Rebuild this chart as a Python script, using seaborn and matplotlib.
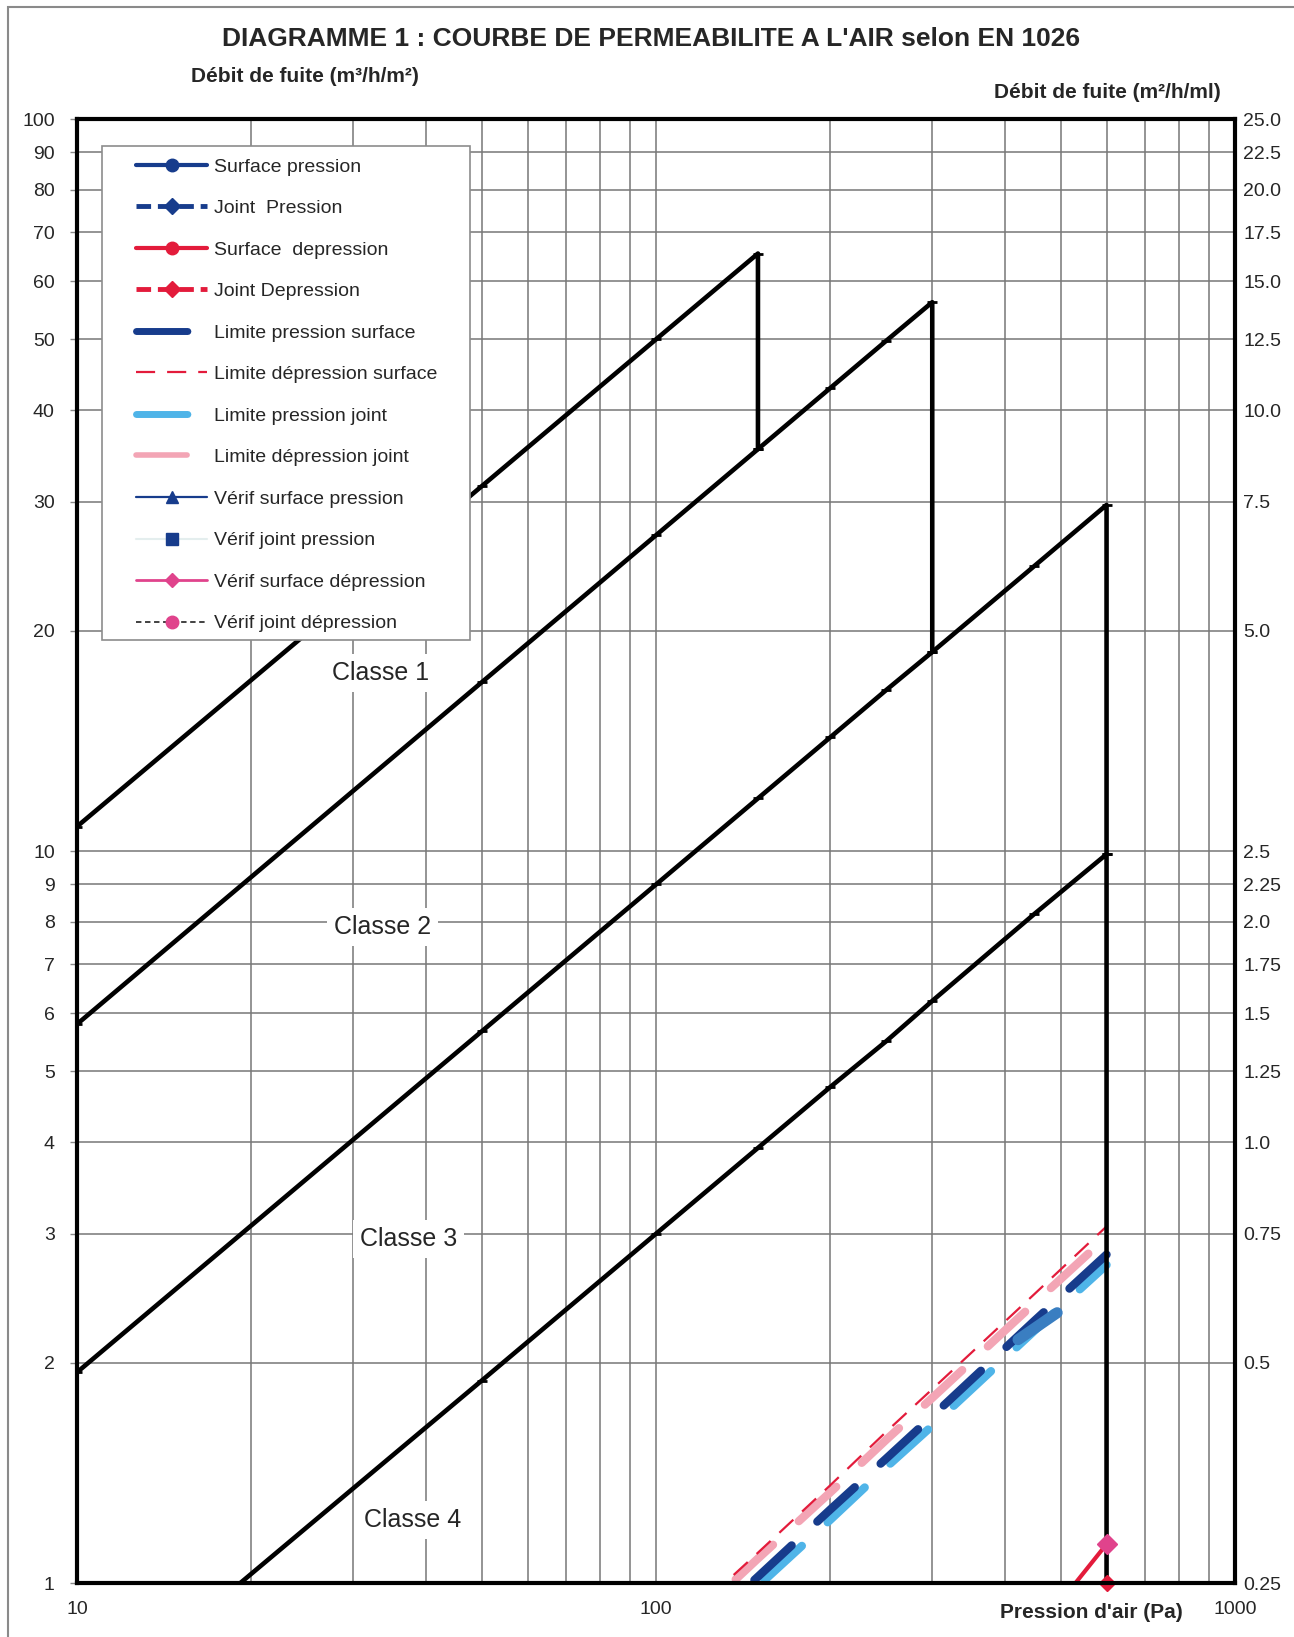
import seaborn as sns
import matplotlib.pyplot as plt
from matplotlib.lines import Line2D
from matplotlib.patches import Rectangle
from matplotlib.ticker import FixedLocator, FixedFormatter, NullLocator

# classes EN 12207 : pression (Pa) / débit de fuite (m3/h/m2)
classe1_p = [10, 50, 100, 150, 150]
classe1_q = [10.8, 31.5, 50.0, 65.5, 35.4]
classe2_p = [10, 50, 100, 150, 200, 250, 300, 300]
classe2_q = [5.8, 17.0, 27.0, 35.4, 42.9, 49.8, 56.2, 18.7]
classe3_p = [10, 50, 100, 150, 200, 250, 300, 450, 600, 600]
classe3_q = [1.94, 5.67, 9.0, 11.8, 14.3, 16.6, 18.7, 24.5, 29.7, 9.9]
classe4_p = [10, 50, 100, 150, 200, 250, 300, 450, 600, 600]
classe4_q = [0.65, 1.89, 3.0, 3.93, 4.76, 5.5, 6.24, 8.2, 9.9, 1.0]

# limites de l'essai
limite_p = [100, 150, 200, 250, 300, 450, 600]
lim_dep_surf = [0.82, 1.10, 1.36, 1.61, 1.84, 2.48, 3.07]
lim_dep_joint = [0.80, 1.08, 1.33, 1.57, 1.79, 2.41, 2.97]
lim_pres_surf = [0.76, 1.02, 1.26, 1.48, 1.69, 2.28, 2.81]
lim_pres_joint = [0.74, 0.99, 1.22, 1.44, 1.64, 2.21, 2.72]

# mesures
verif_joint_p = [422, 493]
verif_joint_q = [2.15, 2.34]
surf_dep_p = [450, 600]
surf_dep_q = [0.85, 1.13]
verif_surf_dep_p = [600]
verif_surf_dep_q = [1.13]
joint_dep_p = [600]
joint_dep_q = [1.0]

# axes
grid_x = [10, 20, 30, 40, 50, 60, 70, 80, 90, 100,
          200, 300, 400, 500, 600, 700, 800, 900, 1000]
grid_y = [1, 2, 3, 4, 5, 6, 7, 8, 9, 10,
          20, 30, 40, 50, 60, 70, 80, 90, 100]
left_labels = ["1", "2", "3", "4", "5", "6", "7", "8", "9", "10",
               "20", "30", "40", "50", "60", "70", "80", "90", "100"]
right_labels = ["0.25", "0.5", "0.75", "1.0", "1.25", "1.5", "1.75", "2.0", "2.25", "2.5",
                "5.0", "7.5", "10.0", "12.5", "15.0", "17.5", "20.0", "22.5", "25.0"]
bottom_labels = {10: "10", 100: "100", 1000: "1000"}

classes = ["Classe 1", "Classe 2", "Classe 3", "Classe 4"]
classes_x = [33.5, 33.7, 37.4, 38.0]
classes_y = [17.5, 7.87, 2.95, 1.22]

legend_labels = ["Surface pression", "Joint  Pression", "Surface  depression",
                 "Joint Depression", "Limite pression surface",
                 "Limite dépression surface", "Limite pression joint",
                 "Limite dépression joint", "Vérif surface pression",
                 "Vérif joint pression", "Vérif surface dépression",
                 "Vérif joint dépression"]

NAVY = "#173c8c"
RED = "#e31b3b"
LBLUE = "#4fb4e8"
PINK = "#f3a5b5"
MAGENTA = "#e0438c"
LONG_DASH = (0, (6.1, 4.2))

sns.set_style("white")
plt.rcParams['font.family'] = ['Liberation Sans', 'DejaVu Sans']

W, H = 1294, 1637
fig = plt.figure(figsize=(W / 100, H / 100), dpi=100)
ax = fig.add_axes([77 / W, 1 - 1583 / H, (1235 - 77) / W, (1583 - 119) / H])
ax.set_xscale('log')
ax.set_yscale('log')
ax.set_xlim(10, 1000)
ax.set_ylim(1, 100)

# black class curves
for px, qy in [(classe1_p, classe1_q), (classe2_p, classe2_q),
               (classe3_p, classe3_q), (classe4_p, classe4_q)]:
    sns.lineplot(x=px, y=qy, ax=ax, color="black", lw=3.3, sort=False,
                 estimator=None, marker="_", ms=7, mew=2, mec="black", zorder=3)

# limits
thick = dict(lw=6, sort=False, estimator=None, linestyle=LONG_DASH,
             dash_capstyle="round", solid_capstyle="round")
sns.lineplot(x=limite_p, y=lim_dep_joint, ax=ax, color=PINK, **thick)
sns.lineplot(x=limite_p, y=lim_pres_joint, ax=ax, color=LBLUE, **thick)
sns.lineplot(x=limite_p, y=lim_pres_surf, ax=ax, color=NAVY, **thick)
sns.lineplot(x=limite_p, y=lim_dep_surf, ax=ax, color=RED, lw=1.6, sort=False,
             estimator=None, linestyle=(0, (8.6, 5.4)))

# measurements
sns.lineplot(x=verif_joint_p, y=verif_joint_q, ax=ax, color="#3a7ec1", lw=8,
             sort=False, estimator=None, solid_capstyle="round")
sns.lineplot(x=surf_dep_p, y=surf_dep_q, ax=ax, color=RED, lw=3, sort=False,
             estimator=None, zorder=4)
ax.plot(joint_dep_p, joint_dep_q, "D", color=RED, ms=8, zorder=5, clip_on=False)
ax.plot(verif_surf_dep_p, verif_surf_dep_q, "D", color=MAGENTA, ms=10, zorder=5)

# grid & ticks
ax.xaxis.set_major_locator(FixedLocator(grid_x))
ax.xaxis.set_major_formatter(FixedFormatter([bottom_labels.get(v, "") for v in grid_x]))
ax.yaxis.set_major_locator(FixedLocator(grid_y))
ax.yaxis.set_major_formatter(FixedFormatter(left_labels))
ax.xaxis.set_minor_locator(NullLocator())
ax.yaxis.set_minor_locator(NullLocator())
ax.set_axisbelow(True)
ax.grid(True, color="#777777", lw=1.1)
ax.tick_params(axis="y", left=True, length=5, width=1, color="#888888", pad=11, labelsize=14)
ax.tick_params(axis="x", bottom=True, length=0, pad=13, labelsize=14)
for s in ax.spines.values():
    s.set_linewidth(3)
    s.set_color("black")
    s.set_zorder(6)

ax2 = ax.twinx()
ax2.set_yscale('log')
ax2.set_ylim(1, 100)
ax2.yaxis.set_major_locator(FixedLocator(grid_y))
ax2.yaxis.set_major_formatter(FixedFormatter(right_labels))
ax2.yaxis.set_minor_locator(NullLocator())
ax2.tick_params(axis="y", length=0, pad=6, labelsize=14)
for s in ax2.spines.values():
    s.set_visible(False)

for t, x, y in zip(classes, classes_x, classes_y):
    ax.text(x, y, t, fontsize=18, ha="center", va="center", zorder=4,
            bbox=dict(fc="white", ec="none", pad=5))

# texts
fig.text(651 / W, 1 - 39 / H, "DIAGRAMME 1 : COURBE DE PERMEABILITE A L'AIR selon EN 1026",
         fontsize=19, fontweight="bold", ha="center", va="center")
fig.text(191 / W, 1 - 77 / H, "Débit de fuite (m³/h/m²)", fontsize=15,
         fontweight="bold", ha="left", va="center")
fig.text(1221 / W, 1 - 93 / H, "Débit de fuite (m²/h/ml)", fontsize=15,
         fontweight="bold", ha="right", va="center")
fig.text(1000 / W, 1 - 1612 / H, "Pression d'air (Pa)", fontsize=15,
         fontweight="bold", ha="left", va="center")

# legend
handles = [
    Line2D([], [], color=NAVY, lw=3, marker="o", ms=9),
    Line2D([], [], color=NAVY, lw=3.5, ls=(0, (3, 1.4)), marker="D", ms=8),
    Line2D([], [], color=RED, lw=3, marker="o", ms=9),
    Line2D([], [], color=RED, lw=3.5, ls=(0, (3, 1.4)), marker="D", ms=8),
    Line2D([], [], color=NAVY, lw=5, ls=(0, (7.4, 5.0)), dash_capstyle="round"),
    Line2D([], [], color=RED, lw=1.6, ls=(0, (8.6, 5.4))),
    Line2D([], [], color=LBLUE, lw=5, ls=(0, (7.4, 5.0)), dash_capstyle="round"),
    Line2D([], [], color=PINK, lw=4, ls=(0, (9.2, 6.0)), dash_capstyle="round"),
    Line2D([], [], color=NAVY, lw=1.6, marker="^", ms=9),
    Line2D([], [], color="#e4eeee", lw=1.5, marker="s", ms=9, mfc=NAVY, mec=NAVY),
    Line2D([], [], color=MAGENTA, lw=2, marker="D", ms=7),
    Line2D([], [], color="#333333", lw=1.3, ls=(0, (3, 2)), marker="o", ms=9,
           mfc=MAGENTA, mec=MAGENTA),
]
frame = Rectangle((102 / W, 1 - 640 / H), 368 / W, 494 / H, transform=fig.transFigure,
                  fc="white", ec="#8c8c8c", lw=1.2, zorder=5)
fig.add_artist(frame)
leg = fig.legend(handles, legend_labels, loc="upper left",
                 bbox_to_anchor=(136 / W, 1 - 158 / H), frameon=False, borderpad=0,
                 borderaxespad=0, handlelength=3.66, handletextpad=0.36,
                 labelspacing=1.23, fontsize=14)
leg.set_zorder(6)

# outer border
fig.add_artist(Rectangle((8 / W, -0.05), 1.2, 1.05 - 7 / H, transform=fig.transFigure,
                         fill=False, ec="#8a8a8a", lw=1.5))

fig.savefig("out.png", dpi=100)
